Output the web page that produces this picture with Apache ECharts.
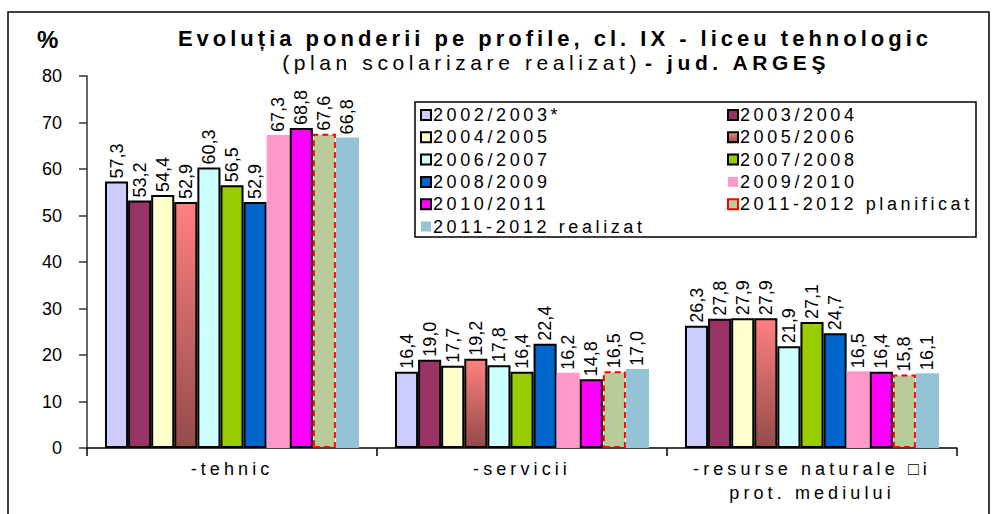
<!DOCTYPE html>
<html><head><meta charset="utf-8">
<script src="https://cdn.jsdelivr.net/npm/echarts@6/dist/echarts.min.js"></script>
<style>
html,body{margin:0;padding:0;background:#fff}
#c{width:992px;height:514px}
#c text[style*="SpLeg"]{letter-spacing:3.6px}
#c text[style*="SpAx"]{letter-spacing:4.1px}
#c text[style*="SpTit"]{letter-spacing:4px}
#c text[style*="SpSub"]{letter-spacing:4.6px}
#c text[style*="SpBld"]{letter-spacing:4.6px}
</style>
</head><body><div id="c"></div>
<script>
const categories = ['-tehnic', '-servicii', '-resurse naturale \u25A1i\nprot. mediului'];
const seriesNames = ['2002/2003*', '2003/2004', '2004/2005', '2005/2006', '2006/2007', '2007/2008', '2008/2009', '2009/2010', '2010/2011', '2011-2012 planificat', '2011-2012 realizat'];
const v2002 = [57.3, 16.4, 26.3];
const v2003 = [53.2, 19.0, 27.8];
const v2004 = [54.4, 17.7, 27.9];
const v2005 = [52.9, 19.2, 27.9];
const v2006 = [60.3, 17.8, 21.9];
const v2007 = [56.5, 16.4, 27.1];
const v2008 = [52.9, 22.4, 24.7];
const v2009 = [67.3, 16.2, 16.5];
const v2010 = [68.8, 14.8, 16.4];
const v2011plan = [67.6, 16.5, 15.8];
const v2011real = [66.8, 17.0, 16.1];
const yTicks = [0, 10, 20, 30, 40, 50, 60, 70, 80];

const allValues = [v2002, v2003, v2004, v2005, v2006, v2007, v2008, v2009, v2010, v2011plan, v2011real];
const FONT = '"Liberation Sans", Arial, sans-serif';
const grad = new echarts.graphic.LinearGradient(0, 0, 0, 1, [{offset: 0, color: '#FF8080'}, {offset: 1, color: '#944A4A'}]);
const styles = [
  {color: '#CCCCFF', borderColor: '#000', borderWidth: 2},
  {color: '#993366', borderColor: '#000', borderWidth: 2},
  {color: '#FFFFCC', borderColor: '#000', borderWidth: 2},
  {color: grad, borderColor: '#000', borderWidth: 2},
  {color: '#CCFFFF', borderColor: '#000', borderWidth: 2},
  {color: '#99CC00', borderColor: '#000', borderWidth: 2},
  {color: '#0066CC', borderColor: '#000', borderWidth: 2},
  {color: '#FF99CC', borderWidth: 0},
  {color: '#FF00FF', borderColor: '#000', borderWidth: 2},
  {color: '#B9CB98', borderColor: '#FF0000', borderWidth: 2, borderType: [6, 4]},
  {color: '#93C3D5', borderWidth: 0}
];

const series = seriesNames.map((n, i) => ({
  name: n, type: 'bar', data: allValues[i],
  barGap: '0%', barCategoryGap: '12.4%',
  itemStyle: styles[i],
  label: {
    show: true, position: 'top', rotate: 90, align: 'left', verticalAlign: 'middle', distance: 3,
    fontFamily: FONT, fontSize: 18, color: '#000',
    formatter: p => p.value.toFixed(1).replace('.', ',')
  }
}));

const legendCommon = {
  orient: 'vertical', itemWidth: 10, itemHeight: 10, itemGap: 4.3, icon: 'rect',
  textStyle: {fontFamily: '"Liberation Sans", SpLeg', fontSize: 18, color: '#000', padding: [0, 0, 0, -3]},
  padding: 0, selectedMode: false
};

const chart = echarts.init(document.getElementById('c'), null, {renderer: 'svg'});
chart.setOption({
  animation: false,
  backgroundColor: '#fff',
  textStyle: {fontFamily: FONT},
  graphic: [
    {type: 'rect', shape: {x: 8, y: 12, width: 981, height: 520}, style: {fill: 'none', stroke: '#000', lineWidth: 1.5}, z: 0},
    {type: 'rect', shape: {x: 415, y: 102, width: 561, height: 135}, style: {fill: '#fff', stroke: '#000', lineWidth: 1.5}, z: 1},
    {type: 'text', left: 37, top: 27, style: {text: '%', font: 'bold 24px ' + FONT, fill: '#000'}, z: 5},
    {type: 'text', x: 555, y: 38, style: {text: 'Evoluția ponderii pe profile, cl. IX - liceu tehnologic', font: 'bold 22px "Liberation Sans", SpTit', fill: '#000', align: 'center', verticalAlign: 'middle'}, z: 5},
    {type: 'text', x: 641, y: 62, style: {text: '(plan scolarizare realizat)', font: '21px "Liberation Sans", SpSub', fill: '#000', align: 'right', verticalAlign: 'middle'}, z: 5},
    {type: 'text', x: 645, y: 62, style: {text: '- jud. ARGEŞ', font: 'bold 21px "Liberation Sans", SpBld', fill: '#000', align: 'left', verticalAlign: 'middle'}, z: 5}
  ],
  legend: [
    Object.assign({}, legendCommon, {left: 420, top: 106, data: seriesNames.filter((_, i) => i % 2 === 0)}),
    Object.assign({}, legendCommon, {left: 727, top: 106, data: seriesNames.filter((_, i) => i % 2 === 1)})
  ],
  grid: {left: 87, right: 35, top: 76, bottom: 66, containLabel: false},
  xAxis: {
    type: 'category', data: categories,
    axisLine: {lineStyle: {color: '#000', width: 1.5}},
    axisTick: {show: true, length: 8, lineStyle: {color: '#000', width: 1.5}},
    axisLabel: {fontFamily: '"Liberation Sans", SpAx', fontSize: 18, color: '#000', margin: 9, lineHeight: 24}
  },
  yAxis: {
    type: 'value', min: yTicks[0], max: yTicks[yTicks.length - 1], interval: 10,
    splitLine: {show: false},
    axisLine: {show: true, lineStyle: {color: '#333', width: 1.5}},
    axisTick: {show: true, length: 8, lineStyle: {color: '#333', width: 1.5}},
    axisLabel: {fontFamily: FONT, fontSize: 18, color: '#000', margin: 25}
  },
  series: series
});
</script></body></html>
